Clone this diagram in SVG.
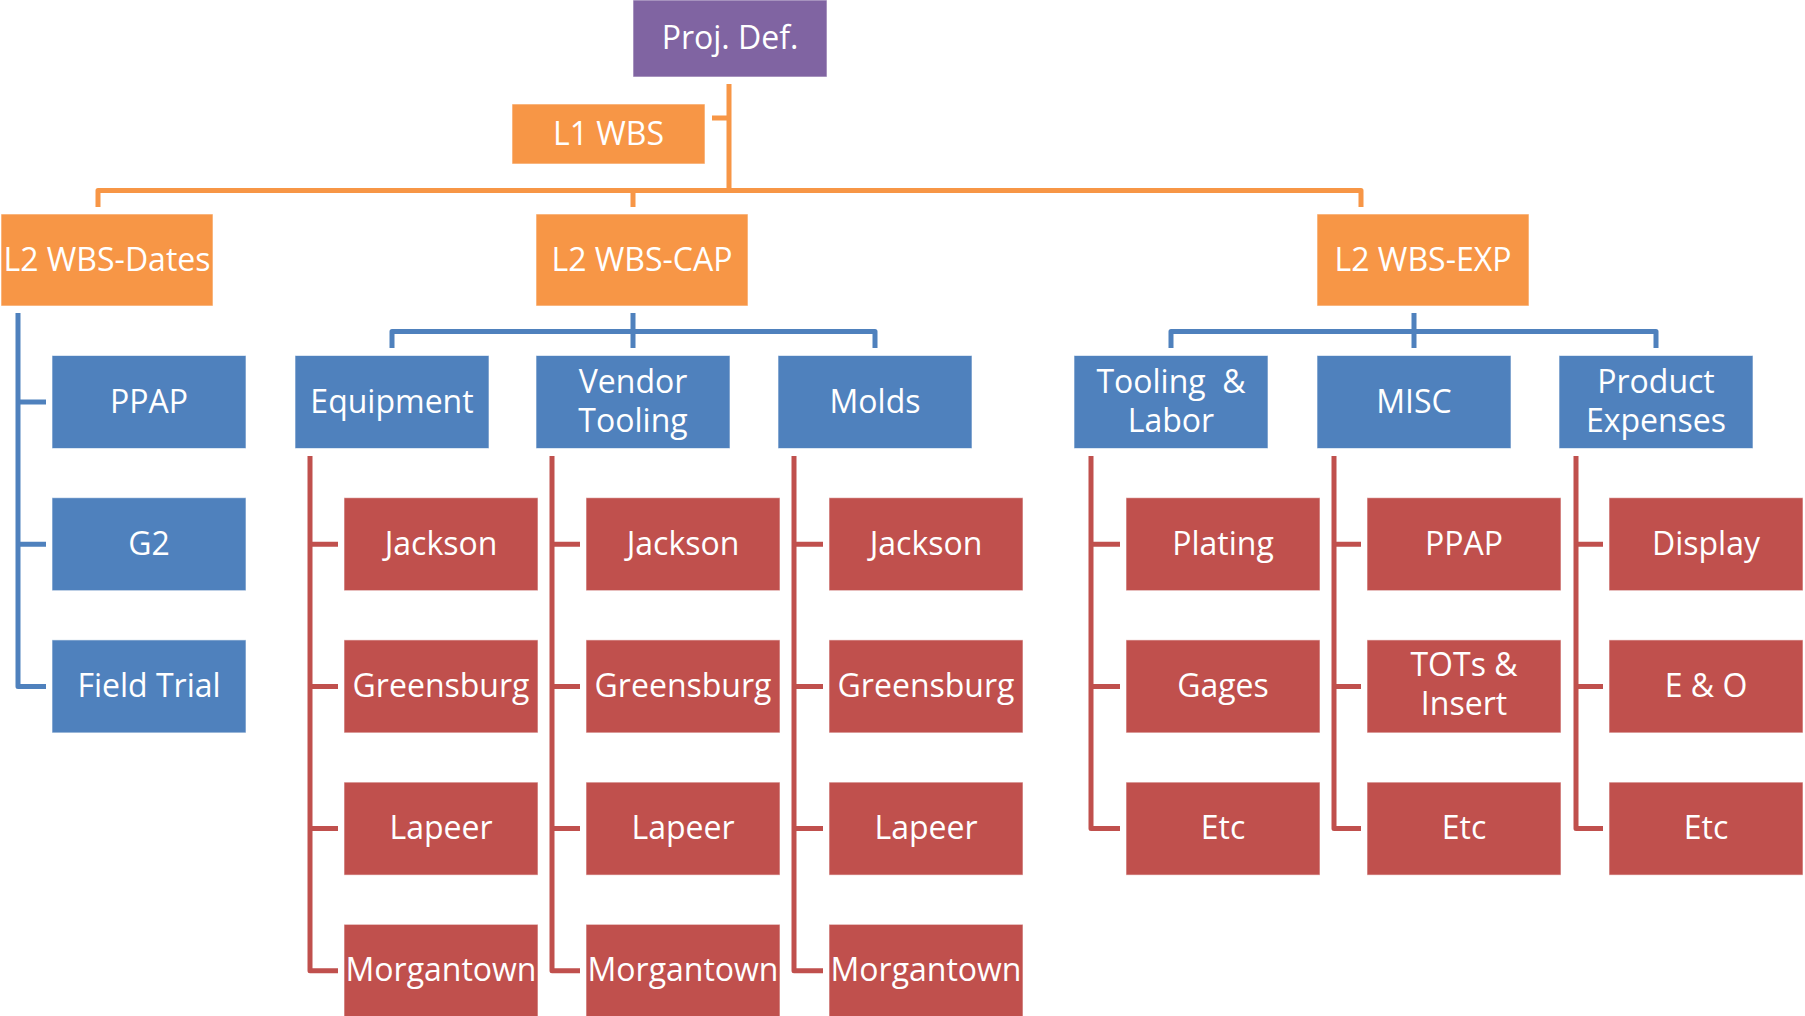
<svg xmlns="http://www.w3.org/2000/svg" width="1805" height="1016" viewBox="0 0 1805 1016">
<style>
  .box{stroke:#ffffff;stroke-width:1;stroke-opacity:0.6}
  .p{fill:#8064A2}
  .o{fill:#F79646}
  .b{fill:#4F81BD}
  .r{fill:#C0504D}
  .t{font-family:"Open Sans","Noto Sans","Liberation Sans",sans-serif;font-size:32px;fill:#ffffff;text-anchor:middle}
  .c{fill:none;stroke-width:5;stroke-linejoin:round;stroke-linecap:butt}
  .co{stroke:#F79646}
  .cb{stroke:#4F81BD}
  .cr{stroke:#C0504D}
</style>
<rect width="1805" height="1016" fill="#ffffff"/>
<g id="connectors">
  <path class="c co" d="M729,84 V190.5 M712,118 H729"/>
  <path class="c co" d="M98,207 V190.5 H1361 V207 M633,190.5 V207"/>
  <path class="c cb" d="M18,313 V686.4 H46 M18,402 H46 M18,544.2 H46"/>
  <path class="c cb" d="M392,348 V331.5 H875 V348 M633,313 V348"/>
  <path class="c cb" d="M1171,348 V331.5 H1656 V348 M1414,313 V348"/>
  <path class="c cr" d="M310,456 V970.8 H338 M310,544.2 H338 M310,686.4 H338 M310,828.6 H338"/>
  <path class="c cr" d="M552,456 V970.8 H580 M552,544.2 H580 M552,686.4 H580 M552,828.6 H580"/>
  <path class="c cr" d="M794,456 V970.8 H823 M794,544.2 H823 M794,686.4 H823 M794,828.6 H823"/>
  <path class="c cr" d="M1091,456 V828.6 H1120 M1091,544.2 H1120 M1091,686.4 H1120"/>
  <path class="c cr" d="M1334,456 V828.6 H1361 M1334,544.2 H1361 M1334,686.4 H1361"/>
  <path class="c cr" d="M1576,456 V828.6 H1603 M1576,544.2 H1603 M1576,686.4 H1603"/>
</g>
<g id="proj-def"><rect class="box p" x="633" y="0" width="194" height="77"/><text class="t" x="730" y="49">Proj. Def.</text></g>
<g id="l1-wbs"><rect class="box o" x="512" y="104" width="193" height="60"/><text class="t" x="608.5" y="145">L1 WBS</text></g>
<g id="l2-dates"><rect class="box o" x="1" y="214" width="212" height="92"/><text class="t" x="107" y="271">L2 WBS-Dates</text></g>
<g id="l2-cap"><rect class="box o" x="536" y="214" width="212" height="92"/><text class="t" x="642" y="271">L2 WBS-CAP</text></g>
<g id="l2-exp"><rect class="box o" x="1317" y="214" width="212" height="92"/><text class="t" x="1423" y="271">L2 WBS-EXP</text></g>

<g id="d-ppap"><rect class="box b" x="52" y="355.5" width="194" height="93"/><text class="t" x="149" y="413">PPAP</text></g>
<g id="d-g2"><rect class="box b" x="52" y="497.7" width="194" height="93"/><text class="t" x="149" y="555">G2</text></g>
<g id="d-field"><rect class="box b" x="52" y="639.9" width="194" height="93"/><text class="t" x="149" y="697">Field Trial</text></g>

<g id="equipment"><rect class="box b" x="295" y="355.5" width="194" height="93"/><text class="t" x="392" y="413">Equipment</text></g>
<g id="vendor-tooling"><rect class="box b" x="536" y="355.5" width="194" height="93"/><text class="t" x="633" y="393">Vendor</text><text class="t" x="633" y="432">Tooling</text></g>
<g id="molds"><rect class="box b" x="778" y="355.5" width="194" height="93"/><text class="t" x="875" y="413">Molds</text></g>
<g id="tooling-labor"><rect class="box b" x="1074" y="355.5" width="194" height="93"/><text class="t" x="1171" y="393" xml:space="preserve">Tooling  &amp;</text><text class="t" x="1171" y="432">Labor</text></g>
<g id="misc"><rect class="box b" x="1317" y="355.5" width="194" height="93"/><text class="t" x="1414" y="413">MISC</text></g>
<g id="product-expenses"><rect class="box b" x="1559" y="355.5" width="194" height="93"/><text class="t" x="1656" y="393">Product</text><text class="t" x="1656" y="432">Expenses</text></g>

<g id="eq-jackson"><rect class="box r" x="344" y="497.7" width="194" height="93"/><text class="t" x="441" y="555">Jackson</text></g>
<g id="eq-greensburg"><rect class="box r" x="344" y="639.9" width="194" height="93"/><text class="t" x="441" y="697">Greensburg</text></g>
<g id="eq-lapeer"><rect class="box r" x="344" y="782.1" width="194" height="93"/><text class="t" x="441" y="839">Lapeer</text></g>
<g id="eq-morgantown"><rect class="box r" x="344" y="924.3" width="194" height="93"/><text class="t" x="441" y="981">Morgantown</text></g>

<g id="vt-jackson"><rect class="box r" x="586" y="497.7" width="194" height="93"/><text class="t" x="683" y="555">Jackson</text></g>
<g id="vt-greensburg"><rect class="box r" x="586" y="639.9" width="194" height="93"/><text class="t" x="683" y="697">Greensburg</text></g>
<g id="vt-lapeer"><rect class="box r" x="586" y="782.1" width="194" height="93"/><text class="t" x="683" y="839">Lapeer</text></g>
<g id="vt-morgantown"><rect class="box r" x="586" y="924.3" width="194" height="93"/><text class="t" x="683" y="981">Morgantown</text></g>

<g id="mo-jackson"><rect class="box r" x="829" y="497.7" width="194" height="93"/><text class="t" x="926" y="555">Jackson</text></g>
<g id="mo-greensburg"><rect class="box r" x="829" y="639.9" width="194" height="93"/><text class="t" x="926" y="697">Greensburg</text></g>
<g id="mo-lapeer"><rect class="box r" x="829" y="782.1" width="194" height="93"/><text class="t" x="926" y="839">Lapeer</text></g>
<g id="mo-morgantown"><rect class="box r" x="829" y="924.3" width="194" height="93"/><text class="t" x="926" y="981">Morgantown</text></g>

<g id="tl-plating"><rect class="box r" x="1126" y="497.7" width="194" height="93"/><text class="t" x="1223" y="555">Plating</text></g>
<g id="tl-gages"><rect class="box r" x="1126" y="639.9" width="194" height="93"/><text class="t" x="1223" y="697">Gages</text></g>
<g id="tl-etc"><rect class="box r" x="1126" y="782.1" width="194" height="93"/><text class="t" x="1223" y="839">Etc</text></g>

<g id="mi-ppap"><rect class="box r" x="1367" y="497.7" width="194" height="93"/><text class="t" x="1464" y="555">PPAP</text></g>
<g id="mi-tots"><rect class="box r" x="1367" y="639.9" width="194" height="93"/><text class="t" x="1464" y="676">TOTs &amp;</text><text class="t" x="1464" y="715">Insert</text></g>
<g id="mi-etc"><rect class="box r" x="1367" y="782.1" width="194" height="93"/><text class="t" x="1464" y="839">Etc</text></g>

<g id="pe-display"><rect class="box r" x="1609" y="497.7" width="194" height="93"/><text class="t" x="1706" y="555">Display</text></g>
<g id="pe-eo"><rect class="box r" x="1609" y="639.9" width="194" height="93"/><text class="t" x="1706" y="697">E &amp; O</text></g>
<g id="pe-etc"><rect class="box r" x="1609" y="782.1" width="194" height="93"/><text class="t" x="1706" y="839">Etc</text></g>
</svg>
